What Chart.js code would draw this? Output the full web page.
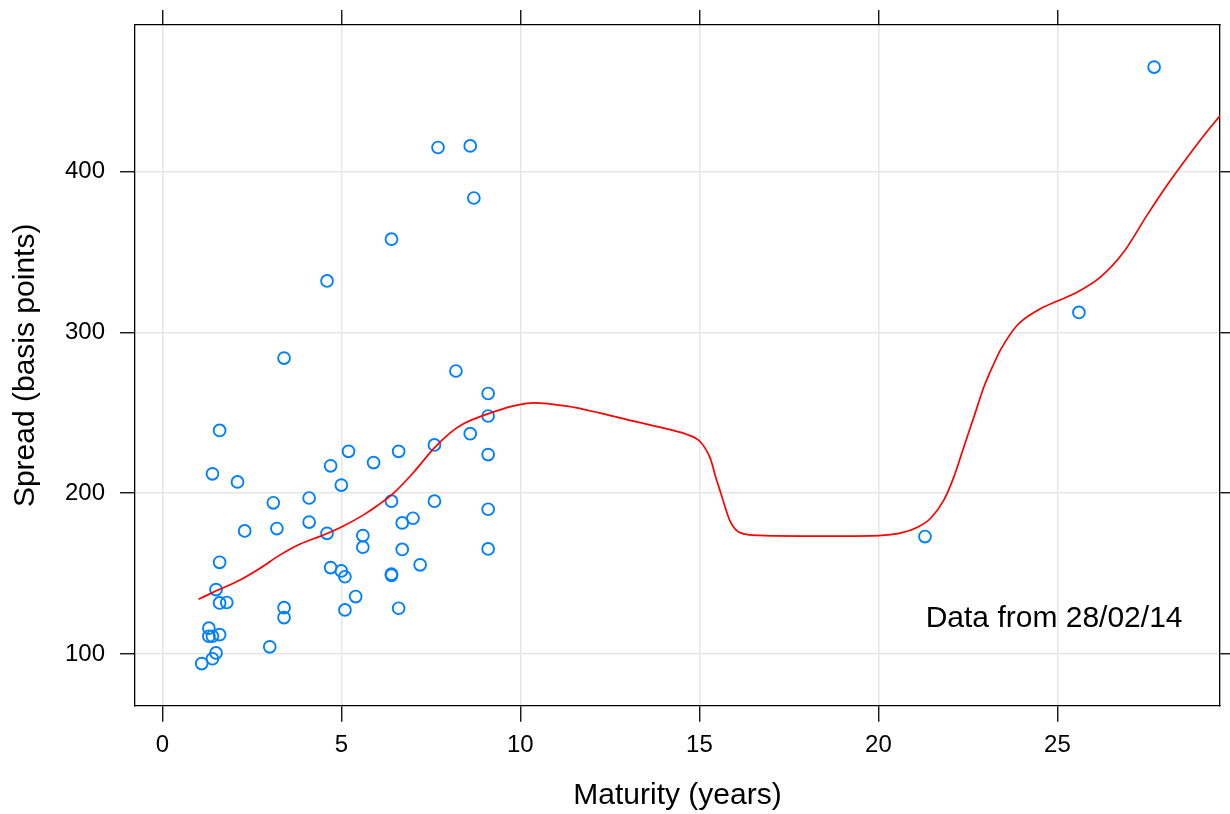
<!DOCTYPE html>
<html>
<head>
<meta charset="utf-8">
<script src="https://cdn.jsdelivr.net/npm/chart.js@4/dist/chart.umd.min.js"></script>
<style>
  html, body { margin: 0; padding: 0; background: #fff; }
  #wrap { width: 1230px; height: 814px; }
</style>
</head>
<body>
<div id="wrap"><canvas id="spread-chart" width="1230" height="814"></canvas></div>
<script>
// bond spreads vs maturity
const maturity = [
  3.4, 8.2, 9.1, 1.6, 9.1, 8.6, 7.6, 5.2, 6.6, 9.1,
  4.7, 5.9, 1.4, 2.1, 5.0, 3.1, 4.1, 6.4, 7.6, 9.1,
  2.3, 3.2, 4.1, 4.6, 6.7, 7.0, 5.6, 5.6, 6.7, 9.1,
  1.6, 7.2, 4.7, 5.0, 5.1, 6.4, 6.4, 1.5, 5.4, 1.6,
  1.8, 3.4, 3.4, 5.1, 6.6, 1.3, 1.3, 1.4, 1.6, 3.0,
  1.5, 1.4, 1.1, 4.6, 6.4, 7.7, 8.6, 8.7, 21.3, 25.6,
  27.7
];
const spread = [
  284, 276, 262, 239, 248, 237, 230, 226, 226, 224,
  217, 219, 212, 207, 205, 194, 197, 195, 195, 190,
  176.5, 178, 182, 175, 181.5, 184.4, 173.6, 166.4, 165, 165.3,
  157, 155.4, 153.7, 151.6, 148, 149.6, 148.9, 140, 135.7, 131.7,
  132, 128.8, 122.6, 127.4, 128.4, 116, 111, 111, 112, 104.4,
  100.6, 97, 94, 332, 358, 415, 416, 383.6, 173, 312.4,
  465
];

// smoothed fit (red curve)
const fitMaturity = [
  1.01, 1.52, 2.17, 2.73, 3.29, 3.85, 4.5, 5.06, 5.62, 5.99,
  6.46, 7.02, 7.59, 8.04, 8.41, 9.09, 9.81, 10.37, 11.3, 12.23,
  13.16, 14.09, 14.65, 15.03, 15.31, 15.45, 15.59, 15.87, 16.15, 16.7,
  18, 19, 20, 20.61, 21.09, 21.46, 21.83, 22.11, 22.39, 22.67,
  22.95, 23.23, 23.41, 23.87, 24.45, 25.0, 25.46, 26.2, 26.85, 27.5,
  28.06, 28.53, 29.09, 29.55
];
const fitSpread = [
  134, 139.4, 146, 153.3, 161.6, 168.4, 174, 179.6, 186.5, 192,
  200, 213, 228, 237.5, 243.1, 249.3, 254.3, 256.2, 254.1, 249.8,
  244.8, 240.0, 236.5, 231.8, 221.3, 210.3, 200.6, 182, 175.3, 173.7,
  173.3, 173.3, 173.6, 175.1, 178.8, 184.4, 195.8, 210.3, 229, 247.6,
  266.3, 280.8, 289.1, 304.3, 313.8, 319.5, 324, 334.4, 350, 372.8,
  391.5, 406, 422.5, 435
];

const xTicks = [0, 5, 10, 15, 20, 25];
const yTicks = [100, 200, 300, 400];
const xRange = [-0.763, 29.54];
const yRange = [67.8, 491.2];

const noteText = 'Data from 28/02/14';
const noteAt = { x: 21.32, y: 117 };

const FONT = '"Liberation Sans", Arial, Helvetica, sans-serif';

function setTicks(list) {
  return (scale) => { scale.ticks = list.map(v => ({ value: v })); };
}
// pin the axis box size and drop the label overhang padding
function fixSize(prop, size) {
  return (scale) => {
    scale[prop] = size;
    scale.paddingTop = 0;
    scale.paddingBottom = 0;
    scale.paddingLeft = 0;
    scale.paddingRight = 0;
  };
}

const notePlugin = {
  id: 'note',
  afterDatasetsDraw(chart) {
    const { ctx, scales } = chart;
    ctx.save();
    ctx.font = '30px ' + FONT;
    ctx.fillStyle = '#000';
    ctx.textAlign = 'left';
    ctx.textBaseline = 'alphabetic';
    ctx.fillText(noteText, scales.x.getPixelForValue(noteAt.x), scales.y.getPixelForValue(noteAt.y));
    ctx.restore();
  }
};

const gridBase = {
  color: '#e6e6e6',
  lineWidth: 1.5,
  tickColor: '#000',
  tickWidth: 1.3
};
const borderBase = { display: true, color: '#000', width: 1.3 };

new Chart(document.getElementById('spread-chart'), {
  type: 'scatter',
  data: {
    datasets: [
      {
        label: 'fit',
        data: fitMaturity.map((x, i) => ({ x, y: fitSpread[i] })),
        showLine: true,
        borderColor: '#ff0000',
        borderWidth: 1.7,
        pointRadius: 0,
        cubicInterpolationMode: 'monotone',
        fill: false
      },
      {
        label: 'bonds',
        data: maturity.map((x, i) => ({ x, y: spread[i] })),
        pointStyle: 'circle',
        pointRadius: 5.9,
        pointBorderWidth: 1.9,
        pointBorderColor: '#0080ff',
        pointBackgroundColor: 'rgba(0,0,0,0)',
        showLine: false
      }
    ]
  },
  options: {
    responsive: false,
    animation: false,
    events: [],
    layout: { padding: 0 },
    plugins: {
      legend: { display: false },
      tooltip: { enabled: false }
    },
    scales: {
      x: {
        type: 'linear', position: 'bottom',
        min: xRange[0], max: xRange[1],
        afterBuildTicks: setTicks(xTicks),
        afterFit: fixSize('height', 108.3),
        grid: { ...gridBase, tickLength: 16 },
        border: borderBase,
        ticks: { color: '#000', padding: 9, font: { family: FONT, size: 24 } },
        title: {
          display: true, text: 'Maturity (years)', color: '#000',
          font: { family: FONT, size: 30 }, padding: { top: 0, bottom: 0 }
        }
      },
      x2: {
        type: 'linear', position: 'top',
        min: xRange[0], max: xRange[1],
        afterBuildTicks: setTicks(xTicks),
        afterFit: fixSize('height', 25),
        grid: { ...gridBase, drawOnChartArea: false, tickLength: 15 },
        border: borderBase,
        ticks: { display: false }
      },
      y: {
        type: 'linear', position: 'left',
        min: yRange[0], max: yRange[1],
        afterBuildTicks: setTicks(yTicks),
        afterFit: fixSize('width', 135),
        grid: { ...gridBase, tickLength: 15 },
        border: borderBase,
        ticks: { color: '#000', padding: 15, font: { family: FONT, size: 24 } },
        title: {
          display: true, text: 'Spread (basis points)', color: '#000',
          font: { family: FONT, size: 30 }, padding: { top: 8, bottom: 0 }
        }
      },
      y2: {
        type: 'linear', position: 'right',
        min: yRange[0], max: yRange[1],
        afterBuildTicks: setTicks(yTicks),
        afterFit: fixSize('width', 10),
        grid: { ...gridBase, drawOnChartArea: false, tickLength: 10 },
        border: borderBase,
        ticks: { display: false }
      }
    }
  },
  plugins: [notePlugin]
});
</script>
</body>
</html>
